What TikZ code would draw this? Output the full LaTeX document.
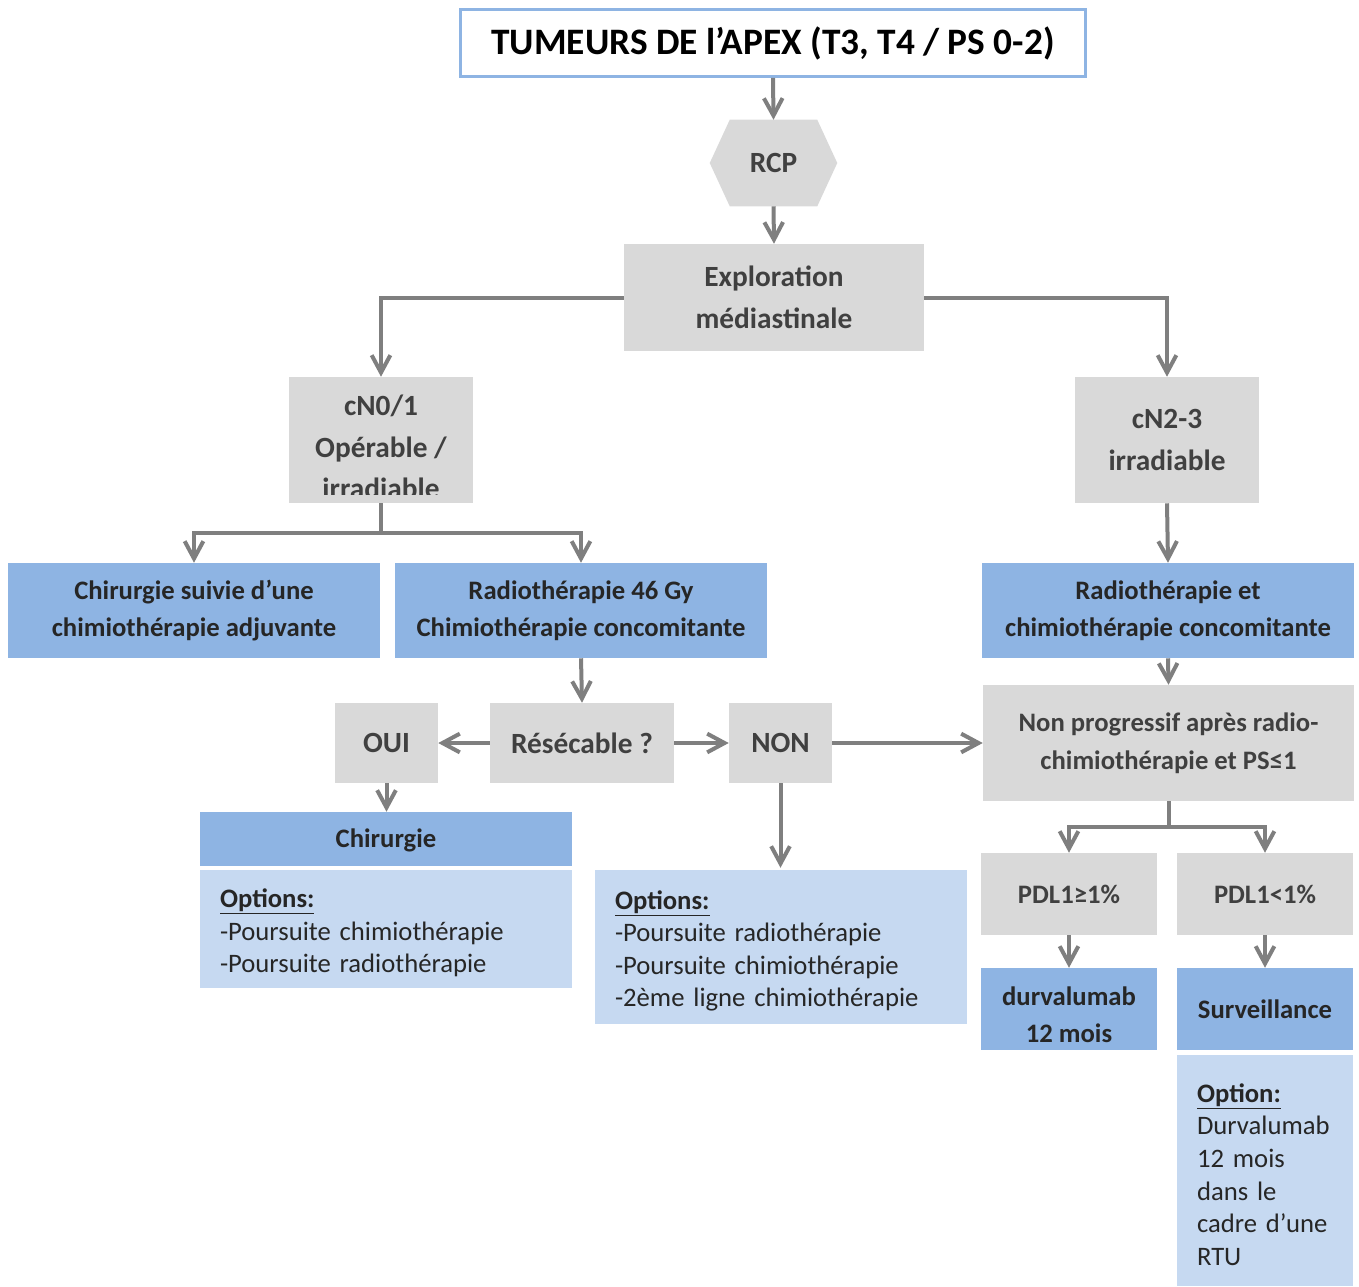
\documentclass[tikz,border=0pt]{standalone}
\usepackage{fontspec}
\setmainfont{Carlito}
\usetikzlibrary{arrows.meta}

\definecolor{boxgray}{HTML}{D9D9D9}
\definecolor{boxblue}{HTML}{8EB4E3}
\definecolor{boxlight}{HTML}{C6D9F1}
\definecolor{linegray}{HTML}{7F7F7F}
\definecolor{txtgray}{HTML}{404040}
\definecolor{txtdark}{HTML}{262626}

\begin{document}
\begin{tikzpicture}[x=0.75pt,y=0.75pt,yscale=-1,xscale=1,
  gbox/.style={fill=boxgray, text=txtgray, inner sep=0pt, align=center, font=\bfseries\fontsize{22}{31.5}\selectfont},
  pbox/.style={fill=boxgray, text=txtgray, inner sep=0pt, align=center, font=\bfseries\fontsize{20}{28.5}\selectfont},
  bbox/.style={fill=boxblue, text=txtdark, inner sep=0pt, align=center, font=\bfseries\fontsize{20}{27.75}\selectfont},
  lbox/.style={fill=boxlight, text=txtdark, inner xsep=15pt, inner ysep=0pt, align=left, font=\fontsize{20}{24.4}\selectfont},
  arr/.style={draw=linegray, line width=3pt, -{Straight Barb[length=13pt,width=14pt]}}]
\path (0,0) rectangle (1359,1286); %set diagram to the page size

%Shape: Rectangle (title)
\node[draw=boxblue, line width=2.25pt, fill=white, inner sep=0pt, minimum width=469pt, minimum height=50pt, text=black, font=\bfseries\fontsize{28}{34}\selectfont] (title) at (773,43) {TUMEURS DE l’APEX (T3, T4 / PS 0-2)};

%Shape: Hexagon
\node[inner sep=0pt, minimum width=95.25pt, minimum height=64.5pt] (rcp) at (773.5,163) {};
\fill[boxgray] (rcp.west) -- ([xshift=15pt]rcp.north west) -- ([xshift=-15pt]rcp.north east) -- (rcp.east) -- ([xshift=-15pt]rcp.south east) -- ([xshift=15pt]rcp.south west) -- cycle;
\node[text=txtgray, font=\bfseries\fontsize{22}{31.5}\selectfont] (rcptxt) at (rcp) {RCP};

%Shape: Rectangle
\node[gbox, minimum width=225pt, minimum height=80.25pt] (explo) at (774,297.5) {Exploration\\médiastinale};
\node[gbox, minimum width=138pt, minimum height=94.5pt] (cna) at (381,440) {};
\begin{scope}
  \clip (cna.north west) rectangle (381+92,494);
  \node[text=txtgray, align=center, font=\bfseries\fontsize{22}{31}\selectfont] (cnatxt) at (381,447) {cN0/1\\Opérable /\\irradiable};
\end{scope}
\node[gbox, minimum width=138pt, minimum height=94.5pt] (cnb) at (1167,440) {cN2-3\\irradiable};

%Shape: Rectangle (treatments)
\node[bbox, minimum width=279pt, minimum height=71.25pt] (chirsuiv) at (194,610.5) {Chirurgie suivie d’une\\chimiothérapie adjuvante};
\node[bbox, minimum width=279pt, minimum height=71.25pt] (radio) at (581,610.5) {Radiothérapie 46 Gy\\Chimiothérapie concomitante};
\node[bbox, minimum width=279pt, minimum height=71.25pt] (radioet) at (1168,610.5) {Radiothérapie et\\chimiothérapie concomitante};

%Shape: Rectangle (resecable)
\node[gbox, minimum width=138pt, minimum height=60pt] (resec) at (582,743) {Résécable ?};
\node[gbox, minimum width=77.25pt, minimum height=60pt] (oui) at (386.5,743) {OUI};
\node[gbox, minimum width=77.25pt, minimum height=60pt] (non) at (780.5,743) {NON};
\node[pbox, minimum width=278.25pt, minimum height=87pt] (nonprog) at (1168.5,743) {Non progressif après radio-\\chimiothérapie et PS≤1};

%Shape: Rectangle (chirurgie)
\node[bbox, minimum width=279pt, minimum height=40.5pt] (chir) at (386,839) {\rule{0pt}{16pt}Chirurgie};
\node[lbox, text width=249pt, minimum height=88.5pt] (optA) at (386,929) {\rule{0pt}{20pt}\underline{\textbf{Options:}}\\-Poursuite chimiothérapie\\-Poursuite radiothérapie};
\node[lbox, text width=249pt, minimum height=115.5pt] (optB) at (781,947) {\rule{0pt}{20pt}\underline{\textbf{Options:}}\\-Poursuite radiothérapie\\-Poursuite chimiothérapie\\-2ème ligne chimiothérapie};

%Shape: Rectangle (PDL1)
\node[pbox, minimum width=132pt, minimum height=61.5pt] (pdlhi) at (1069,894) {PDL1≥1\%};
\node[pbox, minimum width=132pt, minimum height=61.5pt] (pdllo) at (1265,894) {PDL1<1\%};
\node[bbox, minimum width=132pt, minimum height=61.5pt] (durva) at (1069,1009) {\rule{0pt}{22pt}durvalumab\\12 mois};
\node[bbox, minimum width=132pt, minimum height=61.5pt] (surv) at (1265,1009) {Surveillance};
\node[lbox, text width=102pt, minimum height=173.25pt] (optC) at (1265,1170.5) {\rule{0pt}{20pt}\underline{\textbf{Option:}}\\Durvalumab\\12 mois\\dans le\\cadre d’une\\RTU};

%Straight Lines
\draw[arr] (title.south) -- (rcp.north);
\draw[arr] (rcp.south) -- (explo.north);
\draw[arr] (explo.west) -| (cna.north);
\draw[arr] (explo.east) -| (cnb.north);
\draw[arr] (cna.south) -- ++(0,30) -| (chirsuiv.north);
\draw[arr] (cna.south) -- ++(0,30) -| (radio.north);
\draw[arr] (cnb.south) -- (radioet.north);
\draw[arr] (radio.south) -- (resec.north);
\draw[arr] (radioet.south) -- (nonprog.north);
\draw[arr] (resec.west) -- (oui.east);
\draw[arr] (resec.east) -- (non.west);
\draw[arr] (non.east) -- (nonprog.west);
\draw[arr] (oui.south) -- (oui.south |- chir.north);
\draw[arr] (non.south) -- ([yshift=-1.5pt]non.south |- optB.north);
\draw[arr] (nonprog.south) -- ++(0,26) -| (pdlhi.north);
\draw[arr] (nonprog.south) -- ++(0,26) -| (pdllo.north);
\draw[arr] (pdlhi.south) -- (durva.north);
\draw[arr] (pdllo.south) -- (surv.north);

\end{tikzpicture}
\end{document}
